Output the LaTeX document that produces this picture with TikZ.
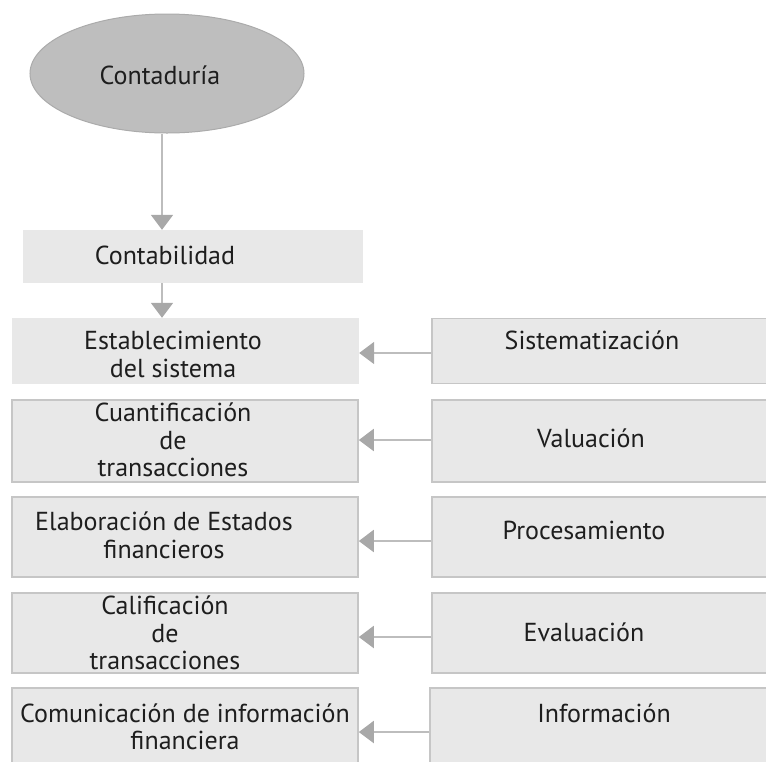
\documentclass[tikz,border=0pt]{standalone}
\usepackage{fontspec}
\setmainfont{PT Sans}
\usetikzlibrary{shapes.geometric,arrows.meta}
\definecolor{boxfill}{HTML}{E8E8E8}
\definecolor{boxline}{HTML}{C6C6C6}
\definecolor{ellfill}{HTML}{BEBEBE}
\definecolor{ellline}{HTML}{ABABAB}
\definecolor{linegray}{HTML}{BDBDBD}
\definecolor{tipgray}{HTML}{A8A8A8}
\definecolor{txt}{HTML}{1E1E1E}
\tikzset{
  plainbox/.style={rectangle, fill=boxfill, inner sep=0pt},
  framebox/.style={rectangle, fill=boxfill, draw=boxline, line width=1.6pt, inner sep=0pt},
  lbl/.style={text=txt, align=center, inner sep=0pt, font=\fontsize{26}{27.5}\selectfont},
  conn/.style={draw=linegray, line width=2pt, -{Triangle[width=22pt,length=15pt,color=tipgray]}},
}
\begin{document}
\begin{tikzpicture}[x=1pt,y=-1pt]
\useasboundingbox (0,0) rectangle (766,761);
% top ellipse
\node[ellipse, fill=ellfill, draw=ellline, line width=1pt, minimum width=274pt, minimum height=119pt, inner sep=0pt] (ctd) at (167,73.5) {};
\node[lbl] (tctd) at (160,75) {Contaduría};
% contabilidad
\node[plainbox, minimum width=340pt, minimum height=53pt] (cb) at (193,256.5) {};
\node[lbl] (tcb) at (165,255) {Contabilidad};
% left column
\node[plainbox, minimum width=347pt, minimum height=66pt] (l1) at (185.5,351) {};
\node[framebox, minimum width=346pt, minimum height=82pt] (l2) at (185,441) {};
\node[framebox, minimum width=346pt, minimum height=80pt] (l3) at (185,537) {};
\node[framebox, minimum width=346pt, minimum height=80pt] (l4) at (185,633) {};
\node[framebox, minimum width=346pt, minimum height=92pt] (l5) at (185,734) {};
% right column
\node[framebox, minimum width=340pt, minimum height=65pt] (r1) at (602,351) {};
\node[framebox, minimum width=340pt, minimum height=82pt] (r2) at (602,441) {};
\node[framebox, minimum width=340pt, minimum height=80pt] (r3) at (602,537) {};
\node[framebox, minimum width=340pt, minimum height=80pt] (r4) at (602,633) {};
\node[framebox, minimum width=342pt, minimum height=92pt] (r5) at (601,734) {};
% texts
\node[lbl] (tl1) at (173,354.5) {Establecimiento\\del sistema};
\node[lbl] (tl2) at (173,440) {Cuantificación\\de\\transacciones};
\node[lbl] (tl3) at (164,535.5) {Elaboración de Estados\\financieros};
\node[lbl] (tl4) at (165,633) {Calificación\\de\\transacciones};
\node[lbl] (tl5) at (185,727) {Comunicación de información\\financiera};
\node[lbl] (tr1) at (592,340) {Sistematización};
\node[lbl] (tr2) at (591,438) {Valuación};
\node[lbl] (tr3) at (584,530) {Procesamiento};
\node[lbl] (tr4) at (584,632) {Evaluación};
\node[lbl] (tr5) at (604,713) {Información};
% vertical connectors
\coordinate (xl) at (162,0);
\draw[conn] (xl |- ctd.south) -- (xl |- cb.north);
\draw[conn] (xl |- cb.south) -- (xl |- l1.north);
% horizontal connectors
\draw[conn] (r1.west |- 0,353) -- (l1.east |- 0,353);
\draw[conn] (r2.west |- 0,440) -- (l2.east |- 0,440);
\draw[conn] (r3.west |- 0,541) -- (l3.east |- 0,541);
\draw[conn] (r4.west |- 0,637) -- (l4.east |- 0,637);
\draw[conn] (r5.west |- 0,732) -- (l5.east |- 0,732);
\end{tikzpicture}
\end{document}
